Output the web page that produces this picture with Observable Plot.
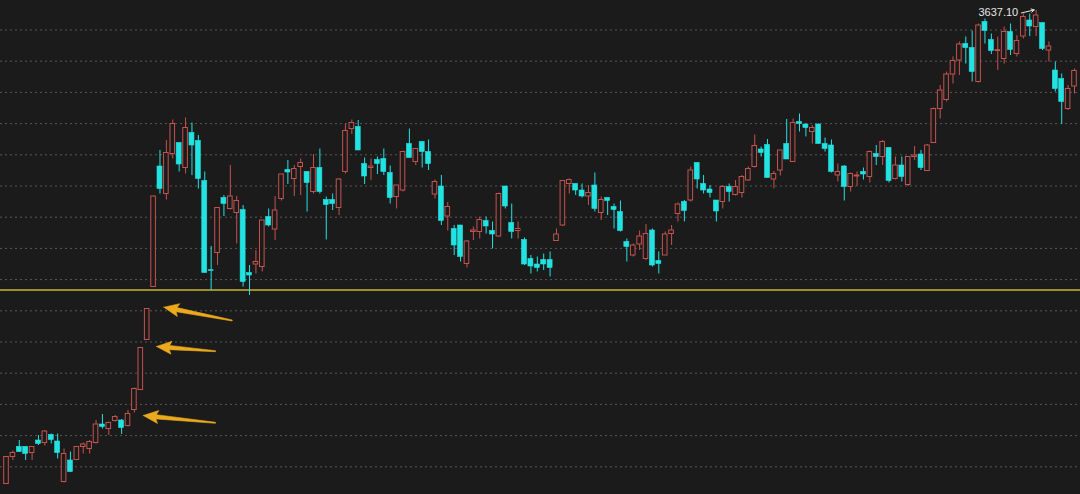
<!DOCTYPE html>
<html><head><meta charset="utf-8">
<script src="https://cdn.jsdelivr.net/npm/d3@7"></script>
<script src="https://cdn.jsdelivr.net/npm/@observablehq/plot@0.6"></script>
<style>html,body{margin:0;padding:0;background:#1b1b1b;overflow:hidden}</style>
</head><body><div id="chart"></div>
<script>
// OHLC values (index points), one per trading day
const open  = [2690,2744,2764,2764,2752,2777,2772,2788,2775,2694,2737,2738,2764,2760,2772,2809,2800,2816,2817,2806,
  2838,2878,2978,3084,3325,3270,3350,3372,3322,3392,3376,3296,3117,3152,3262,3240,3232,3238,3112,3129,
  3124,3224,3199,3260,3318,3300,3324,3314,3274,3322,3258,3258,3242,3314,3400,3404,3330,3322,3338,3340,
  3312,3264,3277,3370,3334,3374,3354,3269,3285,3225,3200,3207,3130,3194,3194,3216,3196,3185,3285,3212,
  3196,3178,3140,3129,3138,3138,3176,3207,3290,3290,3277,3265,3287,3232,3262,3244,3234,3174,3147,3169,
  3140,3197,3136,3147,3190,3230,3254,3257,3332,3290,3279,3257,3254,3284,3268,3272,3297,3324,3359,3368,
  3299,3317,3370,3334,3414,3409,3394,3409,3370,3367,3307,3325,3284,3305,3314,3304,3350,3344,3362,3300,
  3327,3288,3344,3349,3316,3372,3440,3458,3509,3537,3570,3562,3494,3614,3578,3556,3540,3594,3550,3585,
  3617,3604,3612,3557,3517,3500,3440,3485];
const high  = [2745,2756,2777,2765,2765,2787,2797,2790,2790,2760,2754,2765,2772,2777,2817,2829,2814,2827,2819,2837,
  2882,2963,3041,3266,3357,3377,3418,3372,3422,3412,3387,3314,3165,3243,3267,3327,3265,3247,3127,3157,
  3217,3240,3265,3309,3337,3327,3340,3314,3349,3360,3264,3270,3301,3410,3418,3417,3342,3340,3344,3360,
  3326,3287,3356,3400,3360,3374,3378,3298,3307,3253,3207,3207,3177,3204,3224,3224,3214,3272,3285,3250,
  3214,3182,3147,3144,3150,3154,3200,3297,3300,3290,3290,3287,3312,3264,3262,3250,3256,3180,3170,3196,
  3209,3200,3154,3194,3207,3252,3257,3324,3332,3307,3287,3257,3287,3290,3297,3307,3324,3388,3364,3379,
  3315,3357,3419,3420,3430,3410,3407,3410,3382,3378,3330,3327,3312,3314,3322,3356,3367,3377,3362,3344,
  3344,3345,3365,3357,3369,3442,3487,3514,3544,3574,3584,3596,3610,3620,3590,3584,3604,3610,3587,3630,
  3630,3637.1,3612,3574,3534,3510,3487,3520];
const low   = [2689,2737,2753,2737,2737,2767,2766,2770,2740,2692,2713,2737,2750,2750,2770,2800,2787,2814,2789,2804,
  2832,2877,2977,3083,3270,3258,3340,3314,3310,3307,3280,3112,3077,3127,3225,3238,3170,3084,3067,3110,
  3114,3204,3177,3256,3289,3265,3267,3234,3270,3270,3178,3237,3227,3310,3389,3357,3289,3297,3309,3307,
  3250,3240,3274,3342,3327,3322,3317,3260,3207,3196,3147,3134,3122,3177,3180,3190,3160,3184,3240,3180,
  3180,3127,3110,3114,3117,3104,3176,3205,3270,3267,3262,3247,3234,3217,3227,3200,3194,3134,3144,3157,
  3137,3124,3110,3147,3167,3214,3214,3254,3280,3270,3262,3214,3240,3254,3266,3262,3295,3322,3344,3302,
  3280,3306,3339,3334,3394,3384,3370,3370,3354,3312,3294,3256,3274,3285,3298,3292,3327,3327,3292,3298,
  3294,3285,3337,3317,3316,3372,3420,3454,3490,3507,3530,3494,3492,3570,3549,3517,3530,3547,3544,3580,
  3585,3585,3557,3534,3474,3409,3437,3470];
const close = [2744,2752,2754,2750,2764,2770,2795,2778,2752,2750,2714,2764,2769,2774,2809,2804,2812,2824,2802,2830,
  2880,2962,3040,3265,3280,3352,3410,3329,3402,3367,3300,3112,3116,3242,3250,3265,3256,3094,3107,3134,
  3217,3207,3237,3309,3313,3320,3332,3292,3322,3274,3248,3250,3299,3396,3412,3357,3305,3325,3330,3314,
  3262,3287,3354,3342,3360,3354,3330,3294,3216,3244,3167,3144,3175,3197,3218,3205,3189,3270,3245,3194,
  3200,3129,3125,3122,3129,3122,3189,3296,3298,3277,3265,3272,3240,3258,3256,3238,3196,3164,3167,3185,
  3190,3127,3130,3189,3197,3249,3236,3317,3299,3277,3272,3235,3284,3274,3284,3304,3320,3366,3352,3302,
  3310,3357,3339,3412,3410,3402,3402,3370,3360,3314,3314,3284,3310,3307,3309,3354,3344,3374,3296,3327,
  3304,3344,3347,3322,3367,3440,3477,3509,3536,3569,3562,3514,3607,3596,3556,3557,3594,3558,3576,3624,
  3605,3627,3560,3565,3480,3454,3480,3516];

// horizontal dotted guide levels and the highlighted support level
const gridLevels = [3598,3535.6,3473.2,3410.8,3348.4,3286,3223.6,3161.2,3098.8,3036.4,2974,2911.6,2849.2,2786.8,2724.4];
const supportLevel = [3078];
// annotation arrows: tip (day index, level) and tail (day index, level)
const arrowTips  = [[24.6,3043.6],[23.46,2965],[21.38,2827]];
const arrowTails = [[35.29,3017],[32.68,2955.6],[32.68,2812.4]];

const RED = "#c4534f", CYAN = "#22e2e2", BG = "#1b1b1b";
const W = 1080, H = 494;
const xDomain = [-0.938, 167.938], yDomain = [2669, 3657];
const kx = W / (xDomain[1] - xDomain[0]);
const ky = H / (yDomain[1] - yDomain[0]);

const candles = open.map((o, i) => {
  const c = close[i];
  const lo = Math.min(o, c);
  const hi = Math.max(o, c, lo + 1.6);
  return {i, open: o, high: high[i], low: low[i], close: c, up: c >= o, lo, hi};
});

// peak annotation derived from data
const peakIdx = d3.maxIndex(high);
const peakVal = high[peakIdx];
const peak = [{i: peakIdx, v: peakVal, label: peakVal.toFixed(2)}];

// arrow polygons built in data space from tip/tail
function arrowPoly(tip, tail, id) {
  const dx = (tail[0] - tip[0]) * kx, dy = -(tail[1] - tip[1]) * ky;
  const len = Math.hypot(dx, dy), ux = dx / len, uy = dy / len, nx = -uy, ny = ux;
  const headL = 15, headW = 6.5, shaftW = 2.1, tailW = 0.5;
  const pts = [[0,0],[headL,headW],[headL-2,shaftW],[len,tailW],[len,-tailW],[headL-2,-shaftW],[headL,-headW],[0,0]];
  return pts.map(([s, t]) => ({id, x: tip[0] + (ux*s + nx*t) / kx, y: tip[1] - (uy*s + ny*t) / ky}));
}
const arrowPts = arrowTips.flatMap((t, k) => arrowPoly(t, arrowTails[k], k));

const chart = Plot.plot({
  width: W, height: H,
  margin: 0,
  style: {background: BG, color: "#ddd", fontFamily: "'Liberation Sans', Arial, sans-serif"},
  x: {domain: xDomain, axis: null},
  y: {domain: yDomain, axis: null},
  marks: [
    Plot.ruleY(gridLevels, {stroke: "#595959", strokeWidth: 1, strokeDasharray: "2,3"}),
    Plot.ruleY(supportLevel, {stroke: "#c9b62e", strokeWidth: 1.3}),
    Plot.ruleX(candles, {x: "i", y1: "low", y2: "high", stroke: d => d.up ? RED : CYAN, strokeWidth: 1}),
    Plot.rect(candles.filter(d => d.up), {x1: d => d.i - 0.36, x2: d => d.i + 0.36, y1: "lo", y2: "hi", fill: BG, stroke: RED, strokeWidth: 1}),
    Plot.rect(candles.filter(d => !d.up), {x1: d => d.i - 0.39, x2: d => d.i + 0.39, y1: "lo", y2: "hi", fill: CYAN, stroke: CYAN, strokeWidth: 0.6}),
    Plot.line(arrowPts, {x: "x", y: "y", z: "id", fill: "#eba91d", stroke: "#eba91d", strokeWidth: 0.6, curve: "linear"}),
    Plot.text(peak, {x: d => d.i - 2.8, y: d => d.v - 5, text: "label", textAnchor: "end", fill: "#e6e6e6", fontSize: 11}),
    Plot.arrow(peak, {x1: d => d.i - 2.3, y1: d => d.v - 5, x2: d => d.i - 0.3, y2: d => d.v + 1, stroke: "#e6e6e6", strokeWidth: 1, headLength: 5})
  ]
});
document.getElementById("chart").append(chart);
</script>
</body></html>
